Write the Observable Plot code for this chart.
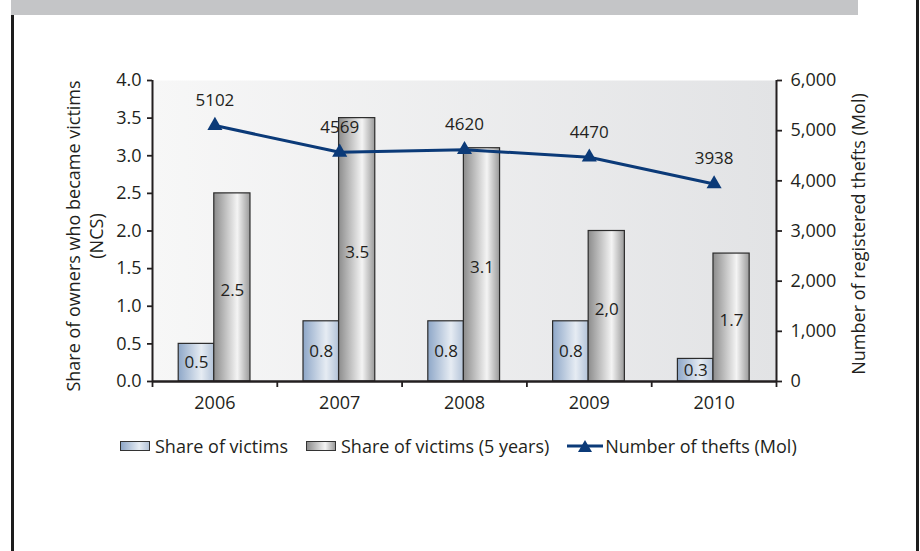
<!DOCTYPE html>
<html><head><meta charset="utf-8">
<script src="https://cdn.jsdelivr.net/npm/d3@7"></script>
<script src="https://cdn.jsdelivr.net/npm/@observablehq/plot@0.6"></script>
<style>
body{margin:0;background:#fff;font-family:"Open Sans",sans-serif;color:#231f20}
#wrap{position:relative;width:920px;height:551px;overflow:hidden;background:#fff}
#hdr{position:absolute;left:11px;top:0;width:847px;height:15px;background:#c4c5c7}
#bl{position:absolute;left:11px;top:15px;width:3px;height:536px;background:#1c1c1c}
#br{position:absolute;left:916px;top:0;width:3px;height:551px;background:#1c1c1c}
#chart{position:absolute;left:0;top:0}
#legend{position:absolute;left:120px;top:435px;height:22px;display:flex;align-items:center;font-size:18px;white-space:nowrap;line-height:22px}
.it{display:flex;align-items:center;margin-right:18px}
.sw{box-sizing:border-box;width:30px;height:10px;border:1px solid #333;margin-right:5px}
.b1{background:linear-gradient(to right,#8ea7c8,#e6ecf3 65%,#b3c3d8)}
.b2{background:linear-gradient(to right,#8c8c8c,#f4f4f4 65%,#9a9a9a)}
</style></head>
<body>
<div id="wrap">
  <div id="hdr"></div><div id="bl"></div><div id="br"></div>
  <div id="chart"></div>
  <div id="legend"></div>
</div>
<script>
const years = [2006, 2007, 2008, 2009, 2010];
const shareVictims = [0.5, 0.8, 0.8, 0.8, 0.3];
const shareVictimsLabels = ["0.5", "0.8", "0.8", "0.8", "0.3"];
const shareVictims5 = [2.5, 3.5, 3.1, 2.0, 1.7];
const shareVictims5Labels = ["2.5", "3.5", "3.1", "2,0", "1.7"];
const thefts = [5102, 4569, 4620, 4470, 3938];
const leftTicks = [0, 0.5, 1, 1.5, 2, 2.5, 3, 3.5, 4];
const rightTicks = [0, 1000, 2000, 3000, 4000, 5000, 6000];
const seriesNames = ["Share of victims", "Share of victims (5 years)", "Number of thefts (Mol)"];
const leftTitle = ["Share of owners who became victims", "(NCS)"];
const rightTitle = "Number of registered thefts (Mol)";

const rows = years.map((year, i) => ({
  year, share: shareVictims[i], shareLabel: shareVictimsLabels[i],
  share5: shareVictims5[i], share5Label: shareVictims5Labels[i], thefts: thefts[i]
}));
const ratio = 6000 / 4; // right axis units per left axis unit
const boundaries = [2005.5, ...years.map(y => y + 0.5)];
const navy = "#0b3a78";
const ink = "#231f20";

const plot = Plot.plot({
  width: 920, height: 551,
  marginLeft: 152, marginRight: 144, marginTop: 80, marginBottom: 170,
  x: {domain: [2005.5, 2010.5]},
  y: {domain: [0, 4]},
  style: {fontFamily: "Open Sans", fontSize: "18px", color: ink, background: "transparent"},
  marks: [
    Plot.frame({fill: "url(#gBg)", stroke: "none"}),
    Plot.rect(rows, {x1: d => d.year - 0.29, x2: d => d.year - 0.005, y1: 0, y2: "share",
      fill: "url(#gBlue)", stroke: "#2b2b2b", strokeWidth: 1.2}),
    Plot.rect(rows, {x1: d => d.year - 0.005, x2: d => d.year + 0.285, y1: 0, y2: "share5",
      fill: "url(#gGray)", stroke: "#2b2b2b", strokeWidth: 1.2}),
    Plot.text(rows, {x: d => d.year - 0.1475, y: d => d.share / 2, text: "shareLabel", fontSize: 17, fill: ink}),
    Plot.text(rows, {x: d => d.year + 0.14, y: d => d.share5 / 2, text: "share5Label", dy: 3, fontSize: 17, fill: ink}),
    Plot.line(rows, {x: "year", y: d => d.thefts / ratio, stroke: navy, strokeWidth: 3}),
    Plot.dot(rows, {x: "year", y: d => d.thefts / ratio, symbol: "triangle", r: 5.6, fill: navy, stroke: "none"}),
    Plot.text(rows, {x: "year", y: d => d.thefts / ratio, text: d => String(d.thefts), dy: -25, fontSize: 17, fill: ink}),
    Plot.ruleX([2005.5, 2010.5], {y1: 0, y2: 4, stroke: ink, strokeWidth: 2}),
    Plot.ruleY([0], {stroke: ink, strokeWidth: 2.5}),
    Plot.axisY(leftTicks, {anchor: "left", tickSize: 5, tickPadding: 6, tickFormat: d3.format(".1f"), label: null, strokeWidth: 1.8}),
    Plot.axisY(rightTicks.map(v => v / ratio), {anchor: "right", tickSize: 5, tickPadding: 9,
      tickFormat: d => d3.format(",")(Math.round(d * ratio)), label: null, strokeWidth: 1.8}),
    Plot.axisX(boundaries, {anchor: "bottom", tickSize: 6, tickFormat: () => "", label: null, strokeWidth: 1.8}),
    Plot.axisX(years, {anchor: "bottom", tickSize: 0, tickPadding: 15, tickFormat: d => String(d), label: null}),
    Plot.text([leftTitle[0]], {text: d => d, frameAnchor: "left", rotate: -90, dx: -78, dy: 5, textAnchor: "middle", lineAnchor: "middle", fontSize: 18, fill: ink}),
    Plot.text([leftTitle[1]], {text: d => d, frameAnchor: "left", rotate: -90, dx: -55, dy: 5, textAnchor: "middle", lineAnchor: "middle", fontSize: 18, fill: ink}),
    Plot.text([rightTitle], {text: d => d, frameAnchor: "right", rotate: -90, dx: 83, dy: 3, textAnchor: "middle", lineAnchor: "middle", fontSize: 18, fill: ink})
  ]
});

const svg = d3.select(plot);
const defs = svg.insert("defs", ":first-child");
function grad(id, stops) {
  const g = defs.append("linearGradient").attr("id", id).attr("x1", 0).attr("x2", 1).attr("y1", 0).attr("y2", 0);
  stops.forEach(([o, c]) => g.append("stop").attr("offset", o).attr("stop-color", c));
}
grad("gBg", [[0, "#f7f7f7"], [1, "#e2e3e5"]]);
grad("gBlue", [[0, "#8ea7c8"], [0.65, "#e6ecf3"], [1, "#b3c3d8"]]);
grad("gGray", [[0, "#8c8c8c"], [0.65, "#f4f4f4"], [1, "#9a9a9a"]]);
document.getElementById("chart").appendChild(plot);

const legend = d3.select("#legend");
const i1 = legend.append("div").attr("class", "it");
i1.append("div").attr("class", "sw b1");
i1.append("span").text(seriesNames[0]);
const i2 = legend.append("div").attr("class", "it");
i2.append("div").attr("class", "sw b2");
i2.append("span").text(seriesNames[1]);
const i3 = legend.append("div").attr("class", "it");
const ls = i3.append("svg").attr("width", 36).attr("height", 16).style("margin-right", "2px");
ls.append("line").attr("x1", 0).attr("x2", 36).attr("y1", 8).attr("y2", 8).attr("stroke", navy).attr("stroke-width", 3);
ls.append("path").attr("d", "M18,2 L25,14 L11,14 Z").attr("fill", navy);
i3.append("span").text(seriesNames[2]);
</script>
</body></html>
